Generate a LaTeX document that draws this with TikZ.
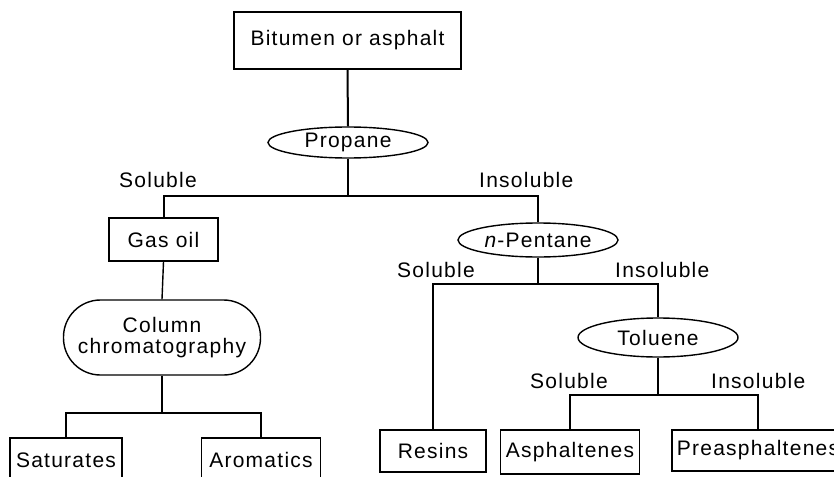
\documentclass[tikz,border=0pt]{standalone}
\usepackage{fontspec}
\setmainfont{Liberation Sans}[LetterSpace=6]
\usetikzlibrary{shapes.geometric}
\begin{document}
\begin{tikzpicture}[x=1pt,y=-1pt,
  txt/.style={font=\fontsize{21}{24}\selectfont},
  box/.style={txt,draw,line width=1.8pt,inner sep=0pt,align=center},
  oval/.style={txt,draw,ellipse,line width=1.4pt,inner sep=0pt},
  lab/.style={txt,inner sep=0pt,anchor=base west},
  conn/.style={line width=1.4pt},
  thick conn/.style={line width=2pt}]
\useasboundingbox (0,0) rectangle (834,476);
% nodes
\node[box,minimum width=227pt,minimum height=57pt] (bit) at (347.5,40.5) {Bitumen or asphalt};
\node[oval,minimum width=160pt,minimum height=31pt] (prop) at (348,142.5) {Propane};
\node[box,minimum width=109pt,minimum height=43pt] (gas) at (163.5,239.5) {Gas oil};
\node[txt,draw,line width=1.4pt,rounded corners=37pt,inner sep=0pt,align=center,
      minimum width=197pt,minimum height=75pt] (chrom) at (162,337.5) {Column\\[-3pt]chromatography};
\node[box,minimum width=112pt,minimum height=44pt] (sat) at (66,460) {Saturates};
\node[box,minimum width=119pt,minimum height=44pt] (aro) at (261,460) {Aromatics};
\node[oval,minimum width=160pt,minimum height=34pt] (pent) at (538,240) {\textit{n}-Pentane};
\node[oval,minimum width=160pt,minimum height=39pt] (tol) at (658,337.5) {Toluene};
\node[box,minimum width=106pt,minimum height=42pt] (res) at (433,451) {Resins};
\node[box,minimum width=139pt,minimum height=44pt] (asp) at (570,452) {Asphaltenes};
\node[box,minimum width=172pt,minimum height=41pt] (pre) at (758,450.5) {Preasphaltenes};
% labels
\node[lab] (l1) at (119,187) {Soluble};
\node[lab] (l2) at (479,187) {Insoluble};
\node[lab] (l3) at (397,277) {Soluble};
\node[lab] (l4) at (615,277) {Insoluble};
\node[lab] (l5) at (530,388) {Soluble};
\node[lab] (l6) at (711,388) {Insoluble};
% junctions
\coordinate (j1) at (348,196);
\coordinate (j2) at (162,413);
\coordinate (j3) at (538,284);
\coordinate (j4) at (658,395);
% connectors
\draw[thick conn] (bit.south) -- (prop.north);
\draw[thick conn] (prop.south) -- (j1);
\draw[thick conn] (gas.north) |- (j1) -| (pent.north);
\draw[conn] (gas.south) -- (chrom.north);
\draw[conn] (chrom.south) -- (j2);
\draw[conn] (sat.north) |- (j2) -| (aro.north);
\draw[conn] (pent.south) -- (j3);
\draw[conn] (res.north) |- (j3) -| (tol.north);
\draw[conn] (tol.south) -- (j4);
\draw[conn] (asp.north) |- (j4) -| (pre.north);
\end{tikzpicture}
\end{document}
